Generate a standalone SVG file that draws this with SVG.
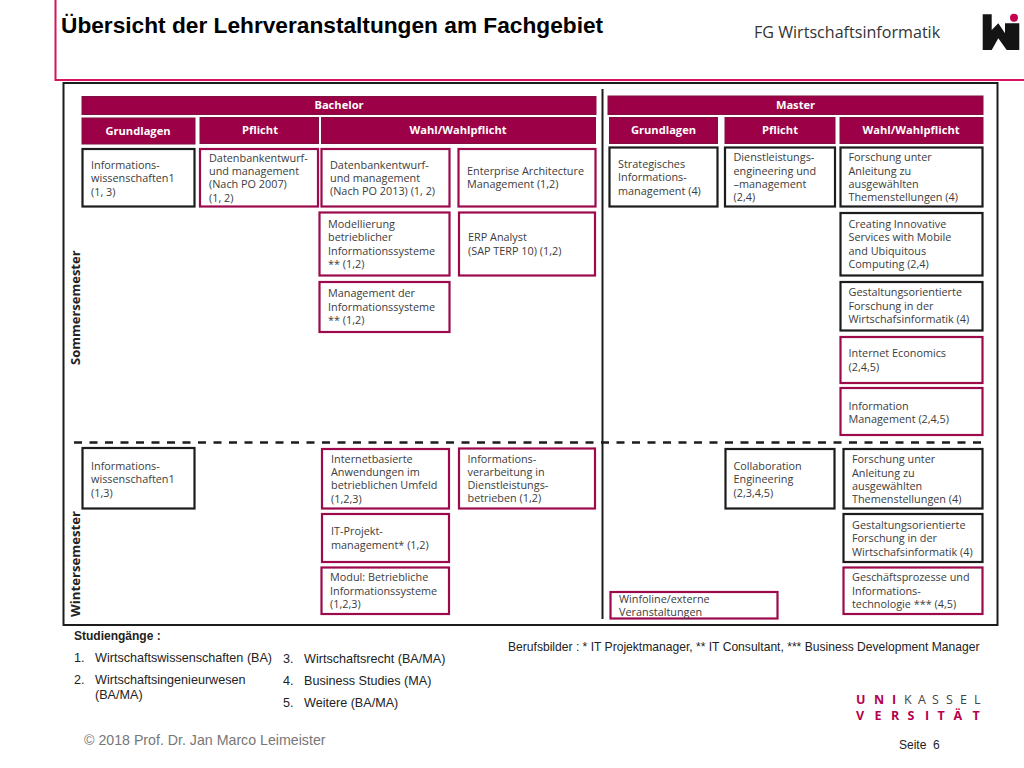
<svg xmlns="http://www.w3.org/2000/svg" width="1024" height="768" viewBox="0 0 1024 768">
<style>
text{font-family:"Open Sans","Noto Sans","Liberation Sans",sans-serif}
.t{font-size:10.85px;fill:#3c3c3c}
.h{font-size:11.15px;font-weight:700;fill:#fff;text-anchor:middle}
.a{font-family:"Liberation Sans",Arial,sans-serif;font-size:12.6px;fill:#222}
.hb{fill:#9c0046;stroke:#80103f;stroke-width:1}
.k{fill:#fff;stroke:#1c1c1c;stroke-width:2.2}
.r{fill:#fff;stroke:#9c0a4c;stroke-width:2.2}
</style>
<rect width="1024" height="768" fill="#fff"/>
<path d="M55.500 0V80H1024" fill="none" stroke="#d6145f" stroke-width="2"/>
<text x="61" y="32.500" style="font-family:'Liberation Sans',Arial,sans-serif;font-size:22.700px;font-weight:700;fill:#000">Übersicht der Lehrveranstaltungen am Fachgebiet</text>
<text x="754" y="38" style="font-size:16.100px;fill:#333">FG Wirtschaftsinformatik</text>
<g id="logo"><path d="M982.700 14.300H991.700V30L998.300 23.300 1005 33.300V23.300H1019.300V50H1006.700L998.300 38.300 991.700 50H982.700Z" fill="#141414"/><circle cx="1014" cy="17.700" r="4" fill="#c4004f"/></g>
<rect x="63.500" y="83" width="934" height="542" fill="none" stroke="#1c1c1c" stroke-width="2"/>
<g id="connectors" stroke="#1c1c1c" fill="none">
<path d="M602.500 89V619" stroke-width="2"/>
<path d="M74 442.500H982" stroke-width="2.500" stroke-dasharray="8 7.500"/>
</g>
<g id="headers">
<rect class="hb" x="82" y="96.500" width="514" height="18"/><text class="h" x="339" y="109">Bachelor</text>
<rect class="hb" x="608" y="96" width="375" height="18.500"/><text class="h" x="795.500" y="109">Master</text>
<rect class="hb" x="82" y="118" width="113" height="26"/><text class="h" x="138" y="135">Grundlagen</text>
<rect class="hb" x="200" y="117.500" width="118.500" height="26"/><text class="h" x="260" y="134">Pflicht</text>
<rect class="hb" x="321.500" y="117.500" width="274" height="26"/><text class="h" x="458" y="134">Wahl/Wahlpflicht</text>
<rect class="hb" x="609.500" y="117.500" width="108" height="26"/><text class="h" x="663.500" y="134">Grundlagen</text>
<rect class="hb" x="725" y="117.500" width="110" height="26"/><text class="h" x="780" y="134">Pflicht</text>
<rect class="hb" x="840" y="117.500" width="143" height="26"/><text class="h" x="911" y="134">Wahl/Wahlpflicht</text>
</g>
<g id="n1"><rect class="k" x="82.500" y="149" width="112" height="57.500"/><text class="t"><tspan x="91" y="169">Informations-</tspan><tspan x="91" y="182">wissenschaften1</tspan><tspan x="91" y="195.500">(1, 3)</tspan></text></g>
<g id="n2"><rect class="r" x="200" y="149" width="118" height="57.500"/><text class="t"><tspan x="209" y="162">Datenbankentwurf-</tspan><tspan x="209" y="175">und management</tspan><tspan x="209" y="188">(Nach PO 2007)</tspan><tspan x="209" y="201.500">(1, 2)</tspan></text></g>
<g id="n3"><rect class="r" x="321.500" y="149" width="128" height="57.500"/><text class="t"><tspan x="330" y="169">Datenbankentwurf-</tspan><tspan x="330" y="182">und management</tspan><tspan x="330" y="195">(Nach PO 2013) (1, 2)</tspan></text></g>
<g id="n4"><rect class="r" x="458.500" y="149" width="137" height="57.500"/><text class="t"><tspan x="467" y="175">Enterprise Architecture</tspan><tspan x="467" y="188">Management (1,2)</tspan></text></g>
<g id="n5"><rect class="r" x="319.500" y="212.500" width="130" height="63"/><text class="t"><tspan x="328" y="228">Modellierung</tspan><tspan x="328" y="241">betrieblicher</tspan><tspan x="328" y="255">Informationssysteme</tspan><tspan x="328" y="268">** (1,2)</tspan></text></g>
<g id="n6"><rect class="r" x="459" y="212.500" width="136" height="63"/><text class="t"><tspan x="468" y="241">ERP Analyst</tspan><tspan x="468" y="255">(SAP TERP 10) (1,2)</tspan></text></g>
<g id="n7"><rect class="r" x="319.500" y="282" width="130" height="50"/><text class="t"><tspan x="328" y="297">Management der</tspan><tspan x="328" y="311">Informationssysteme</tspan><tspan x="328" y="324">** (1,2)</tspan></text></g>
<g id="n8"><rect class="k" x="609.500" y="147.500" width="108" height="59"/><text class="t"><tspan x="618" y="168">Strategisches</tspan><tspan x="618" y="181">Informations-</tspan><tspan x="618" y="195">management (4)</tspan></text></g>
<g id="n9"><rect class="k" x="725" y="147.500" width="110" height="59"/><text class="t"><tspan x="733.500" y="161">Dienstleistungs-</tspan><tspan x="733.500" y="175">engineering und</tspan><tspan x="733.500" y="188">–management</tspan><tspan x="733.500" y="201">(2,4)</tspan></text></g>
<g id="n10"><rect class="k" x="840.500" y="147.500" width="142" height="59"/><text class="t"><tspan x="848.500" y="161">Forschung unter</tspan><tspan x="848.500" y="175">Anleitung zu</tspan><tspan x="848.500" y="188">ausgewählten</tspan><tspan x="848.500" y="201">Themenstellungen (4)</tspan></text></g>
<g id="n11"><rect class="k" x="840.500" y="213" width="142" height="62.500"/><text class="t"><tspan x="848.500" y="228">Creating Innovative</tspan><tspan x="848.500" y="241">Services with Mobile</tspan><tspan x="848.500" y="255">and Ubiquitous</tspan><tspan x="848.500" y="268">Computing (2,4)</tspan></text></g>
<g id="n12"><rect class="k" x="840.500" y="282" width="142" height="48.500"/><text class="t"><tspan x="848.500" y="296">Gestaltungsorientierte</tspan><tspan x="848.500" y="310">Forschung in der</tspan><tspan x="848.500" y="323">Wirtschafsinformatik (4)</tspan></text></g>
<g id="n13"><rect class="r" x="840.500" y="337" width="142" height="46"/><text class="t"><tspan x="848.500" y="357">Internet Economics</tspan><tspan x="848.500" y="371">(2,4,5)</tspan></text></g>
<g id="n14"><rect class="r" x="840.500" y="388" width="142" height="47"/><text class="t"><tspan x="848.500" y="410">Information</tspan><tspan x="848.500" y="423">Management (2,4,5)</tspan></text></g>
<g id="n15"><rect class="k" x="82.500" y="448" width="112" height="60.500"/><text class="t"><tspan x="91" y="470">Informations-</tspan><tspan x="91" y="483">wissenschaften1</tspan><tspan x="91" y="496.500">(1,3)</tspan></text></g>
<g id="n16"><rect class="r" x="322" y="449" width="127" height="59.500"/><text class="t"><tspan x="331" y="463">Internetbasierte</tspan><tspan x="331" y="476">Anwendungen im</tspan><tspan x="331" y="489">betrieblichen Umfeld</tspan><tspan x="331" y="503">(1,2,3)</tspan></text></g>
<g id="n17"><rect class="r" x="459" y="448.500" width="136" height="60"/><text class="t"><tspan x="467.500" y="463">Informations-</tspan><tspan x="467.500" y="476">verarbeitung in</tspan><tspan x="467.500" y="489">Dienstleistungs-</tspan><tspan x="467.500" y="502">betrieben (1,2)</tspan></text></g>
<g id="n18"><rect class="r" x="322" y="514" width="127" height="48"/><text class="t"><tspan x="331" y="535">IT-Projekt-</tspan><tspan x="331" y="549">management* (1,2)</tspan></text></g>
<g id="n19"><rect class="r" x="321.500" y="567.500" width="127.500" height="46.500"/><text class="t"><tspan x="330" y="581">Modul: Betriebliche</tspan><tspan x="330" y="595">Informationssysteme</tspan><tspan x="330" y="608">(1,2,3)</tspan></text></g>
<g id="n20"><rect class="k" x="725.500" y="449" width="109" height="59.500"/><text class="t"><tspan x="733.500" y="470">Collaboration</tspan><tspan x="733.500" y="483">Engineering</tspan><tspan x="733.500" y="497">(2,3,4,5)</tspan></text></g>
<g id="n21"><rect class="k" x="843.500" y="449" width="139" height="59.500"/><text class="t"><tspan x="852" y="463">Forschung unter</tspan><tspan x="852" y="477">Anleitung zu</tspan><tspan x="852" y="490">ausgewählten</tspan><tspan x="852" y="503">Themenstellungen (4)</tspan></text></g>
<g id="n22"><rect class="k" x="843.500" y="514" width="139" height="48"/><text class="t"><tspan x="852" y="529">Gestaltungsorientierte</tspan><tspan x="852" y="542">Forschung in der</tspan><tspan x="852" y="556">Wirtschafsinformatik (4)</tspan></text></g>
<g id="n23"><rect class="r" x="843.500" y="567.500" width="139" height="46.500"/><text class="t"><tspan x="852" y="581">Geschäftsprozesse und</tspan><tspan x="852" y="595">Informations-</tspan><tspan x="852" y="608">technologie *** (4,5)</tspan></text></g>
<g id="n24"><rect class="r" x="610.500" y="592" width="167" height="26.500"/><text class="t"><tspan x="619" y="603">Winfoline/externe</tspan><tspan x="619" y="616">Veranstaltungen</tspan></text></g>
<text transform="translate(80,365) rotate(-90)" style="font-size:13px;font-weight:700;fill:#222">Sommersemester</text>
<text transform="translate(80,617) rotate(-90)" style="font-size:13.200px;font-weight:700;fill:#222">Wintersemester</text>
<text x="74" y="640" style="font-family:'Liberation Sans',Arial,sans-serif;font-size:12px;font-weight:700;fill:#222">Studiengänge :</text>
<g id="list">
<text class="a" x="74" y="662">1.</text><text class="a" x="95" y="662">Wirtschaftswissenschaften (BA)</text>
<text class="a" x="74" y="684">2.</text><text class="a" x="95" y="684">Wirtschaftsingenieurwesen</text><text class="a" x="95" y="699">(BA/MA)</text>
<text class="a" x="283" y="663">3.</text><text class="a" x="304" y="663">Wirtschaftsrecht (BA/MA)</text>
<text class="a" x="283" y="685">4.</text><text class="a" x="304" y="685">Business Studies (MA)</text>
<text class="a" x="283" y="707">5.</text><text class="a" x="304" y="707">Weitere (BA/MA)</text>
</g>
<text class="a" x="508" y="651" style="font-size:12.100px">Berufsbilder : * IT Projektmanager, ** IT Consultant, *** Business Development Manager</text>
<text x="84" y="745" style="font-family:'Liberation Sans',Arial,sans-serif;font-size:14.200px;fill:#777">© 2018 Prof. Dr. Jan Marco Leimeister</text>
<g id="unilogo" style="font-family:'Liberation Sans',Arial,sans-serif;font-size:12.500px">
<text x="856 874 892" y="703.500" font-weight="700" fill="#b5004e">UNI</text>
<text x="904 918 932 946 960 974" y="703.500" fill="#444">KASSEL</text>
<text x="856 874.500 891 907.500 925 937.500 953.500 972.500" y="719.500" font-weight="700" fill="#b5004e">VERSITÄT</text>
</g>
<text x="899" y="749" style="font-family:'Liberation Sans',Arial,sans-serif;font-size:12px;fill:#222">Seite</text>
<text x="933" y="749" style="font-family:'Liberation Sans',Arial,sans-serif;font-size:12px;fill:#222">6</text>
</svg>
